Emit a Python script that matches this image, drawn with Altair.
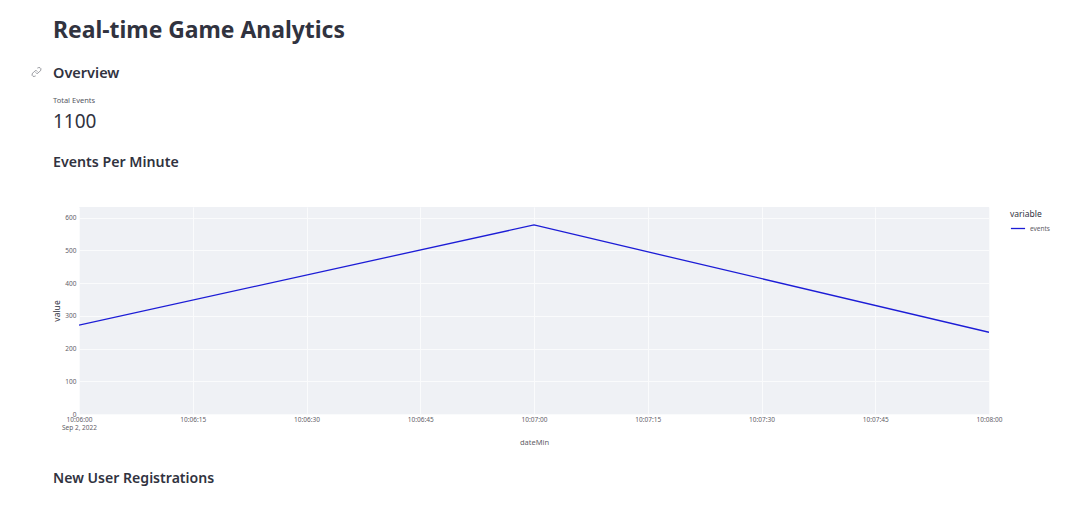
import altair as alt
import pandas as pd

minutes = ["2022-09-02T10:06:00", "2022-09-02T10:07:00", "2022-09-02T10:08:00"]
events = [272, 578, 250]
series = ["events"] * 3
y_ticks = [0, 100, 200, 300, 400, 500, 600]
x_tick_parts = [(6, 0), (6, 15), (6, 30), (6, 45), (7, 0), (7, 15), (7, 30), (7, 45), (8, 0)]

df = pd.DataFrame({"dateMin": minutes, "value": events, "variable": series})

BLUE = "#1c1cd6"
INK = "#31333f"
TICK = "#5f6068"
FONT = "Noto Sans"
GRID = "#fafbfc"

base = alt.Chart(df)

line = base.mark_line(strokeWidth=1.3, clip=True).encode(
    x=alt.X(
        "dateMin:T",
        title="dateMin",
        scale=alt.Scale(nice=False),
        axis=alt.Axis(
            values=[
                {"year": 2022, "month": 9, "date": 2, "hours": 10, "minutes": m, "seconds": s}
                for m, s in x_tick_parts
            ],
            labelExpr="datum.index === 0 ? [timeFormat(datum.value, '%H:%M:%S'), 'Sep 2, 2022'] : timeFormat(datum.value, '%H:%M:%S')",
            grid=True,
            gridColor=GRID,
            gridWidth=1,
            domain=False,
            ticks=False,
            labelFont=FONT,
            labelFontSize=6.5,
            labelColor=TICK,
            labelPadding=2,
            labelFlush=False,
            labelOverlap=False,
            titleFont=FONT,
            titleFontSize=7.5,
            titleFontWeight="normal",
            titleColor=TICK,
            titlePadding=7,
        ),
    ),
    y=alt.Y(
        "value:Q",
        title="value",
        scale=alt.Scale(domain=[0, 633], nice=False),
        axis=alt.Axis(
            values=y_ticks,
            grid=True,
            gridColor=GRID,
            gridWidth=1,
            domain=False,
            ticks=False,
            labelFont=FONT,
            labelFontSize=6.5,
            labelColor=TICK,
            labelPadding=3,
            titleFont=FONT,
            titleFontSize=8.5,
            titleFontWeight="normal",
            titleColor=INK,
            titlePadding=3,
        ),
    ),
    color=alt.Color(
        "variable:N",
        scale=alt.Scale(range=[BLUE]),
        legend=alt.Legend(
            orient="none",
            legendX=931,
            legendY=3,
            title="variable",
            titleFont=FONT,
            titleFontSize=8.5,
            titleFontWeight="normal",
            titleColor=INK,
            labelFont=FONT,
            labelFontSize=6.5,
            labelColor=TICK,
            symbolType="stroke",
            symbolSize=200,
            symbolStrokeWidth=1.3,
            titlePadding=2,
        ),
    ),
)


def label(text, x, y, size, weight="normal", color=INK):
    return (
        alt.Chart(pd.DataFrame({"t": [text]}))
        .mark_text(align="left", baseline="middle", font=FONT, fontSize=size, fontWeight=weight, color=color)
        .encode(x=alt.value(x), y=alt.value(y), text="t:N")
    )


heading = "Real-time Game Analytics"
section_one = "Overview"
metric_label = "Total Events"
metric_value = "1100"
section_two = "Events Per Minute"
section_three = "New User Registrations"

LINK = (
    "M-0.1,0.45 L-0.2,0.5 L-0.4,0.5 L-0.5,0.4 L-0.5,0.2 L-0.4,0.1 L-0.15,-0.15 L0,-0.15 L0.1,-0.05 "
    "M0.1,-0.45 L0.2,-0.5 L0.4,-0.5 L0.5,-0.4 L0.5,-0.2 L0.4,-0.1 L0.15,0.15 L0,0.15 L-0.1,0.05"
)
link_icon = (
    alt.Chart(pd.DataFrame({"t": [section_one]}))
    .mark_point(filled=False, strokeWidth=0.9, opacity=1)
    .encode(
        x=alt.value(-42.5),
        y=alt.value(-135),
        shape=alt.value(LINK),
        size=alt.value(300),
        stroke=alt.value("#8a8c93"),
    )
)

chart = (
    alt.layer(
        line,
        label(heading, -26, -176.5, 22.9, "bold"),
        link_icon,
        label(section_one, -26, -133, 14.5, 600),
        label(metric_label, -26, -106, 7.5, "normal", "#55575f"),
        label(metric_value, -26, -85, 19),
        label(section_two, -26, -44.5, 14.2, 600),
        label(section_three, -26, 271.5, 14.1, 600),
    )
    .properties(
        width=910,
        height=207,
        padding={"left": 71, "top": 199, "right": 80, "bottom": 78},
        autosize=alt.AutoSizeParams(type="none"),
        background="#ffffff",
    )
    .configure_view(fill="#eff1f5", stroke=None)
)

chart.save("out.html", embed_options={"renderer": "svg", "actions": False})
